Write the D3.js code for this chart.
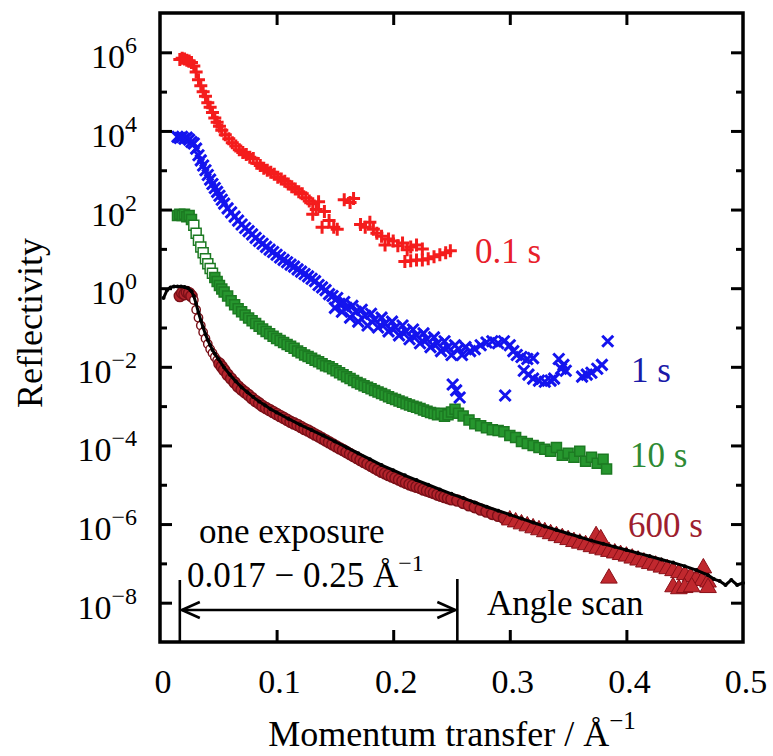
<!DOCTYPE html>
<html>
<head>
<meta charset="utf-8">
<script src="https://cdn.jsdelivr.net/npm/d3@7"></script>
<style>
  body { margin: 0; background: #fff; }
  text { font-family: "Liberation Serif", "Times New Roman", serif; }
</style>
</head>
<body>
<div id="chart"></div>
<script>
// [momentum transfer (1/Å), log10 reflectivity]
const red01s = [
  [0.017,5.82],[0.019,5.85],[0.021,5.83],[0.023,5.8],[0.025,5.78],[0.027,5.74],[0.029,5.65],
  [0.031,5.5],[0.033,5.3],[0.035,5.15],[0.037,5.0],[0.039,4.88],[0.041,4.72],[0.043,4.6],
  [0.045,4.47],[0.047,4.33],[0.049,4.22],[0.051,4.12],[0.053,4.02],[0.056,3.9],[0.059,3.8],
  [0.062,3.7],[0.065,3.62],[0.068,3.52],[0.071,3.45],[0.074,3.4],[0.077,3.33],[0.080,3.3],
  [0.083,3.18],[0.086,3.12],[0.089,3.05],[0.092,3.0],[0.095,2.95],[0.098,2.9],[0.101,2.82],
  [0.104,2.78],[0.107,2.72],[0.110,2.65],[0.113,2.58],[0.116,2.52],[0.119,2.45],[0.122,2.4],
  [0.125,2.3],[0.128,2.22],[0.131,2.15],[0.134,2.0],[0.136,2.2],[0.131,1.88],[0.139,1.55],
  [0.141,1.95],[0.145,1.72],[0.149,1.55],[0.152,1.5],[0.158,2.25],[0.163,2.18],[0.166,2.28],
  [0.172,1.62],[0.176,1.55],[0.180,1.68],[0.183,1.5],[0.186,1.4],[0.190,1.32],[0.193,1.1],
  [0.196,1.25],[0.200,1.2],[0.204,1.08],[0.208,1.15],[0.212,0.98],[0.215,1.05],[0.220,1.1],
  [0.225,1.0],[0.210,0.68],[0.215,0.7],[0.220,0.72],[0.225,0.72],[0.230,0.75],[0.235,0.8],
  [0.240,0.85],[0.245,0.9],[0.249,0.95]
]

const blue1s = [
  [0.015,3.85],[0.017,3.82],[0.019,3.85],[0.021,3.8],[0.023,3.83],[0.025,3.78],[0.027,3.72],
  [0.029,3.68],[0.031,3.55],[0.033,3.38],[0.035,3.25],[0.037,3.12],[0.039,3.0],[0.041,2.88],
  [0.043,2.76],[0.045,2.65],[0.047,2.55],[0.049,2.45],[0.051,2.35],[0.053,2.25],[0.055,2.15],
  [0.058,2.03],[0.061,1.93],[0.064,1.82],[0.067,1.72],[0.070,1.62],[0.073,1.53],[0.076,1.45],
  [0.079,1.37],[0.082,1.28],[0.085,1.2],[0.088,1.13],[0.091,1.05],[0.094,0.98],[0.097,0.92],
  [0.100,0.85],[0.103,0.78],[0.106,0.72],[0.109,0.66],[0.112,0.6],[0.115,0.55],[0.118,0.48],
  [0.121,0.42],[0.124,0.36],[0.127,0.3],[0.130,0.24],[0.133,0.18],[0.136,0.08],[0.139,0.02],
  [0.142,-0.05],[0.145,-0.15],[0.148,-0.2],[0.150,-0.5],[0.152,-0.25],[0.154,-0.4],[0.156,-0.6],
  [0.158,-0.35],[0.160,-0.5],[0.163,-0.75],[0.165,-0.45],[0.168,-0.6],[0.170,-0.85],[0.173,-0.55],
  [0.176,-0.7],[0.178,-0.95],[0.181,-0.65],[0.184,-0.8],[0.187,-1.0],[0.190,-0.75],[0.193,-0.9],
  [0.196,-1.1],[0.199,-0.85],[0.202,-1.0],[0.205,-1.2],[0.208,-0.95],[0.211,-1.1],[0.214,-1.3],
  [0.217,-1.05],[0.220,-1.2],[0.223,-1.4],[0.226,-1.15],[0.229,-1.3],[0.232,-1.5],[0.235,-1.25],
  [0.238,-1.4],[0.241,-1.6],[0.244,-1.35],[0.247,-1.5],[0.250,-1.7],[0.253,-1.45],[0.256,-1.55],
  [0.259,-1.7],[0.262,-1.5],[0.251,-2.45],[0.254,-2.6],[0.257,-2.78],[0.266,-1.6],[0.270,-1.55],
  [0.275,-1.45],[0.280,-1.38],[0.285,-1.35],[0.290,-1.4],[0.295,-1.35],[0.300,-1.45],[0.303,-1.6],
  [0.306,-1.7],[0.310,-1.75],[0.315,-1.8],[0.320,-1.78],[0.296,-2.73],[0.312,-2.1],[0.316,-2.2],
  [0.320,-2.3],[0.325,-2.35],[0.330,-2.38],[0.335,-2.35],[0.338,-2.3],[0.342,-1.8],[0.346,-1.95],
  [0.348,-2.1],[0.344,-2.05],[0.362,-2.25],[0.366,-2.2],[0.370,-2.15],[0.375,-2.05],[0.379,-1.95],
  [0.384,-1.35]
]

const green10s = [
  [0.015,1.85],[0.017,1.88],[0.019,1.85],[0.021,1.88],[0.023,1.82],[0.025,1.85],[0.027,1.75],
  [0.029,1.6],[0.031,1.4],[0.033,1.22],[0.035,1.05],[0.037,0.9],[0.039,0.75],[0.041,0.62],
  [0.043,0.5],[0.045,0.38],[0.047,0.27],[0.049,0.17],[0.051,0.07],[0.053,-0.02],[0.055,-0.1],
  [0.058,-0.2],[0.061,-0.32],[0.064,-0.42],[0.067,-0.52],[0.070,-0.6],[0.073,-0.68],[0.076,-0.76],
  [0.079,-0.83],[0.082,-0.9],[0.085,-0.97],[0.088,-1.04],[0.091,-1.1],[0.094,-1.16],[0.097,-1.22],
  [0.100,-1.28],[0.103,-1.33],[0.106,-1.38],[0.109,-1.43],[0.112,-1.48],[0.115,-1.53],[0.118,-1.6],
  [0.121,-1.64],[0.124,-1.7],[0.127,-1.74],[0.130,-1.78],[0.133,-1.83],[0.136,-1.87],[0.139,-1.92],
  [0.142,-1.97],[0.145,-2.0],[0.148,-2.05],[0.151,-2.1],[0.154,-2.15],[0.157,-2.2],[0.160,-2.25],
  [0.163,-2.3],[0.166,-2.35],[0.169,-2.4],[0.172,-2.44],[0.175,-2.48],[0.178,-2.52],[0.181,-2.56],
  [0.184,-2.6],[0.187,-2.64],[0.190,-2.68],[0.193,-2.72],[0.196,-2.76],[0.199,-2.8],[0.202,-2.83],
  [0.205,-2.87],[0.208,-2.9],[0.211,-2.94],[0.214,-2.97],[0.217,-3.0],[0.220,-3.03],[0.223,-3.06],
  [0.226,-3.1],[0.229,-3.13],[0.232,-3.16],[0.235,-3.19],[0.238,-3.22],[0.241,-3.18],[0.244,-3.26],
  [0.247,-3.22],[0.250,-3.15],[0.253,-3.08],[0.256,-3.18],[0.260,-3.25],[0.265,-3.35],[0.270,-3.45],
  [0.275,-3.5],[0.280,-3.55],[0.285,-3.6],[0.290,-3.62],[0.295,-3.65],[0.300,-3.75],[0.305,-3.8],
  [0.310,-3.9],[0.315,-3.95],[0.320,-4.0],[0.325,-4.05],[0.330,-4.1],[0.335,-4.15],[0.340,-4.05],
  [0.345,-4.25],[0.350,-4.2],[0.355,-4.3],[0.360,-4.15],[0.365,-4.4],[0.370,-4.3],[0.375,-4.45],
  [0.380,-4.35],[0.383,-4.6]
]

const darkred600s = [
  [0.017,-0.2],[0.019,-0.12],[0.021,-0.15],[0.023,-0.1],[0.025,-0.13],[0.027,-0.2],[0.029,-0.3],
  [0.031,-0.55],[0.033,-0.75],[0.035,-0.95],[0.037,-1.12],[0.039,-1.28],[0.041,-1.42],[0.043,-1.55],
  [0.045,-1.65],[0.047,-1.75],[0.049,-1.83],[0.051,-1.92],[0.053,-2.0],[0.055,-2.08],[0.058,-2.2],
  [0.061,-2.3],[0.064,-2.4],[0.067,-2.5],[0.070,-2.58],[0.073,-2.65],[0.076,-2.72],[0.079,-2.8],
  [0.082,-2.87],[0.085,-2.93],[0.088,-3.0],[0.091,-3.05],[0.094,-3.1],[0.097,-3.15],[0.100,-3.2],
  [0.103,-3.25],[0.106,-3.3],[0.109,-3.35],[0.112,-3.4],[0.115,-3.44],[0.118,-3.48],[0.121,-3.53],
  [0.124,-3.58],[0.127,-3.62],[0.130,-3.67],[0.133,-3.72],[0.136,-3.77],[0.139,-3.82],[0.142,-3.87],
  [0.145,-3.92],[0.148,-3.97],[0.151,-4.02],[0.154,-4.07],[0.157,-4.12],[0.160,-4.17],[0.163,-4.22],
  [0.166,-4.27],[0.169,-4.32],[0.172,-4.37],[0.175,-4.42],[0.178,-4.47],[0.181,-4.52],[0.184,-4.57],
  [0.187,-4.62],[0.190,-4.67],[0.193,-4.71],[0.196,-4.75],[0.199,-4.79],[0.202,-4.83],[0.205,-4.87],
  [0.208,-4.91],[0.211,-4.95],[0.214,-4.99],[0.217,-5.02],[0.220,-5.05],[0.223,-5.08],[0.226,-5.12],
  [0.229,-5.15],[0.232,-5.18],[0.235,-5.21],[0.238,-5.25],[0.241,-5.28],[0.244,-5.31],[0.247,-5.34],
  [0.250,-5.37],[0.255,-5.4],[0.260,-5.46],[0.265,-5.52],[0.270,-5.57],[0.275,-5.63],[0.280,-5.68],
  [0.285,-5.74],[0.290,-5.79],[0.295,-5.85],[0.300,-5.9],[0.305,-5.95],[0.310,-6.0],[0.315,-6.05],
  [0.320,-6.1],[0.325,-6.15],[0.330,-6.2],[0.335,-6.25],[0.340,-6.3],[0.345,-6.35],[0.350,-6.4],
  [0.355,-6.45],[0.360,-6.49],[0.365,-6.53],[0.370,-6.58],[0.375,-6.62],[0.380,-6.66],[0.385,-6.7],
  [0.390,-6.74],[0.395,-6.78],[0.400,-6.82],[0.405,-6.87],[0.410,-6.92],[0.415,-6.97],[0.420,-7.01],
  [0.425,-7.05],[0.430,-7.1],[0.435,-7.14],[0.440,-7.19],[0.445,-7.24],[0.450,-7.29],[0.455,-7.34],
  [0.460,-7.39],[0.465,-7.44],[0.470,-7.48],
  [0.374,-6.3],[0.378,-6.38],[0.385,-7.38],[0.440,-7.6],[0.445,-7.65],[0.450,-7.62],[0.456,-7.6],
  [0.466,-7.12],[0.470,-7.62]
]

const angleScan = [
  [0.003,-0.25],[0.006,-0.05],[0.009,0.02],[0.012,0.04],[0.015,0.04],[0.018,0.04],[0.021,0.03],
  [0.024,0.0],[0.027,-0.08],[0.029,-0.2],[0.031,-0.4],[0.033,-0.62],[0.035,-0.82],[0.037,-1.0],
  [0.039,-1.17],[0.041,-1.32],[0.043,-1.45],[0.045,-1.57],[0.047,-1.67],[0.050,-1.8],[0.055,-2.02],
  [0.060,-2.2],[0.065,-2.37],[0.070,-2.52],[0.075,-2.65],[0.080,-2.77],[0.085,-2.88],[0.090,-2.98],
  [0.095,-3.08],[0.100,-3.16],[0.110,-3.32],[0.120,-3.47],[0.130,-3.61],[0.140,-3.75],[0.150,-3.9],
  [0.160,-4.05],[0.170,-4.2],[0.180,-4.35],[0.190,-4.5],[0.200,-4.63],[0.210,-4.76],[0.220,-4.88],
  [0.230,-5.0],[0.240,-5.12],[0.250,-5.23],[0.260,-5.34],[0.270,-5.45],[0.280,-5.56],[0.290,-5.66],
  [0.300,-5.76],[0.310,-5.86],[0.320,-5.96],[0.330,-6.06],[0.340,-6.15],[0.350,-6.24],[0.360,-6.33],
  [0.370,-6.42],[0.380,-6.5],[0.390,-6.58],[0.400,-6.66],[0.410,-6.74],[0.420,-6.82],[0.430,-6.9],
  [0.440,-6.98],[0.450,-7.07],[0.460,-7.17],[0.470,-7.3],[0.475,-7.4],[0.480,-7.45],[0.485,-7.55],
  [0.490,-7.42],[0.495,-7.55],[0.500,-7.5]
]

const xTicks = [0, 0.1, 0.2, 0.3, 0.4, 0.5]
const xTickLabels = ["0", "0.1", "0.2", "0.3", "0.4", "0.5"]
const yMajorExp = [6, 4, 2, 0, -2, -4, -6, -8]
const yMinorExp = [5, 3, 1, -1, -3, -5, -7]
const exposureRange = [0.017, 0.255]

const width = 773
const height = 756
const box = { left: 160, right: 743, top: 13, bottom: 642 }

const svg = d3.select("#chart").append("svg")
  .attr("width", width)
  .attr("height", height)

const x = d3.scaleLinear().domain([0, 0.5]).range([box.left, box.right])
const y = d3.scaleLog().domain([1e-9, 1e7]).range([box.bottom, box.top])
const X = d => x(d[0])
const Y = d => y(Math.pow(10, d[1]))

const plot = svg.append("g")

// 600 s: open circles near the edge, filled circles, then triangles
const dr = plot.append("g")
dr.selectAll("circle")
  .data(darkred600s.filter(d => d[0] < 0.3))
  .join("circle")
  .attr("cx", X).attr("cy", Y).attr("r", d => d[0] > 0.028 && d[0] < 0.05 ? 4.2 : 5.6)
  .attr("fill", d => d[0] > 0.028 && d[0] < 0.05 ? "#fff" : "#b3242c")
  .attr("stroke", "#7a1018").attr("stroke-width", 1.4)
dr.selectAll("path")
  .data(darkred600s.filter(d => d[0] >= 0.3))
  .join("path")
  .attr("d", d3.symbol(d3.symbolTriangle, 120))
  .attr("transform", d => `translate(${X(d)},${Y(d)})`)
  .attr("fill", "#c0282e").attr("stroke", "#8a1018").attr("stroke-width", 1)

// angle scan
plot.append("path")
  .datum(angleScan)
  .attr("fill", "none")
  .attr("stroke", "#000")
  .attr("stroke-width", 3)
  .attr("d", d3.line().x(X).y(Y))
plot.append("g").selectAll("circle")
  .data(angleScan)
  .join("circle")
  .attr("cx", X).attr("cy", Y).attr("r", 2)
  .attr("fill", "#000")

// 10 s squares
plot.append("g").selectAll("path")
  .data(green10s)
  .join("path")
  .attr("d", d3.symbol(d3.symbolSquare, 100))
  .attr("transform", d => `translate(${X(d)},${Y(d)})`)
  .attr("fill", d => d[0] > 0.028 && d[0] < 0.046 ? "#fff" : "#26962e")
  .attr("stroke", "#1c7a22").attr("stroke-width", 1.5)

// 1 s crosses
plot.append("g").selectAll("path")
  .data(blue1s)
  .join("path")
  .attr("d", "M-5.5,-5.5L5.5,5.5M-5.5,5.5L5.5,-5.5")
  .attr("transform", d => `translate(${X(d)},${Y(d)})`)
  .attr("stroke", "#1414ee").attr("stroke-width", 3).attr("fill", "none")

// 0.1 s pluses
plot.append("g").selectAll("path")
  .data(red01s)
  .join("path")
  .attr("d", "M-6.5,0H6.5M0,-6.5V6.5")
  .attr("transform", d => `translate(${X(d)},${Y(d)})`)
  .attr("stroke", "#f41c1c").attr("stroke-width", 3).attr("fill", "none")

// frame and ticks
function tickAxis(axis, tf, values, size) {
  const g = svg.append("g").attr("transform", tf)
    .call(axis.tickValues(values).tickSize(size).tickFormat(""))
  g.select(".domain").remove()
  g.selectAll(".tick line").attr("stroke", "#000").attr("stroke-width", 3)
}
const yMaj = yMajorExp.map(e => Math.pow(10, e))
const yMin = yMinorExp.map(e => Math.pow(10, e))
tickAxis(d3.axisLeft(y), `translate(${box.left},0)`, yMaj, -12)
tickAxis(d3.axisLeft(y), `translate(${box.left},0)`, yMin, -7)
tickAxis(d3.axisRight(y), `translate(${box.right},0)`, yMaj, -12)
tickAxis(d3.axisRight(y), `translate(${box.right},0)`, yMin, -7)
tickAxis(d3.axisBottom(x), `translate(0,${box.bottom})`, xTicks.slice(1, -1), -12)
tickAxis(d3.axisTop(x), `translate(0,${box.top})`, xTicks.slice(1, -1), -12)

svg.append("rect")
  .attr("x", box.left).attr("y", box.top)
  .attr("width", box.right - box.left).attr("height", box.bottom - box.top)
  .attr("fill", "none").attr("stroke", "#000").attr("stroke-width", 3.5)

// tick labels
svg.append("g").selectAll("text")
  .data(xTicks)
  .join("text")
  .attr("x", d => x(d) + 3)
  .attr("y", 693)
  .attr("text-anchor", "middle")
  .attr("font-size", 34)
  .text((d, i) => xTickLabels[i])

const yl = svg.append("g").selectAll("text")
  .data(yMajorExp)
  .join("text")
  .attr("x", 137)
  .attr("y", d => y(Math.pow(10, d)) + 16)
  .attr("text-anchor", "end")
  .attr("font-size", 34)
yl.append("tspan").text("10")
yl.append("tspan")
  .attr("dy", -15)
  .attr("font-size", 24)
  .text(d => (d < 0 ? "\u2212" : "") + Math.abs(d))

// axis titles
svg.append("text")
  .attr("transform", "translate(42,323) rotate(-90)")
  .attr("text-anchor", "middle")
  .attr("font-size", 36)
  .text("Reflectivity")

const xt = svg.append("text")
  .attr("x", 452).attr("y", 746)
  .attr("text-anchor", "middle")
  .attr("font-size", 36)
xt.append("tspan").text("Momentum transfer / \u00C5")
xt.append("tspan").attr("dy", -17).attr("font-size", 25).text("\u22121")

// series labels
const labels = [
  { t: "0.1 s", x: 475, y: 263, c: "#e8202a" },
  { t: "1 s", x: 631, y: 382, c: "#1a1aa8" },
  { t: "10 s", x: 630, y: 467, c: "#2e8a34" },
  { t: "600 s", x: 628, y: 537, c: "#9e1e2e" }
]
svg.append("g").selectAll("text")
  .data(labels)
  .join("text")
  .attr("x", d => d.x).attr("y", d => d.y)
  .attr("font-size", 35)
  .attr("fill", d => d.c)
  .text(d => d.t)

// exposure bracket
const ann = svg.append("g").attr("stroke", "#000").attr("stroke-width", 2.6).attr("fill", "none")
const xa = x(exposureRange[0]), xb = x(exposureRange[1])
ann.append("line").attr("x1", xa).attr("x2", xa).attr("y1", 580).attr("y2", box.bottom)
ann.append("line").attr("x1", xb).attr("x2", xb).attr("y1", 579).attr("y2", box.bottom)
ann.append("line").attr("x1", xa + 2).attr("x2", xb - 2).attr("y1", 610).attr("y2", 610)
ann.append("path").attr("d", `M${xa + 20},602L${xa + 2},610L${xa + 20},618`)
ann.append("path").attr("d", `M${xb - 20},602L${xb - 2},610L${xb - 20},618`)

svg.append("text").attr("x", 199).attr("y", 543).attr("font-size", 35).text("one exposure")
const rt = svg.append("text").attr("x", 187).attr("y", 587).attr("font-size", 35)
rt.append("tspan").text("0.017 \u2212 0.25 \u00C5")
rt.append("tspan").attr("dy", -16).attr("font-size", 24).text("\u22121")
svg.append("text").attr("x", 487).attr("y", 615).attr("font-size", 35).text("Angle scan")
</script>
</body>
</html>
